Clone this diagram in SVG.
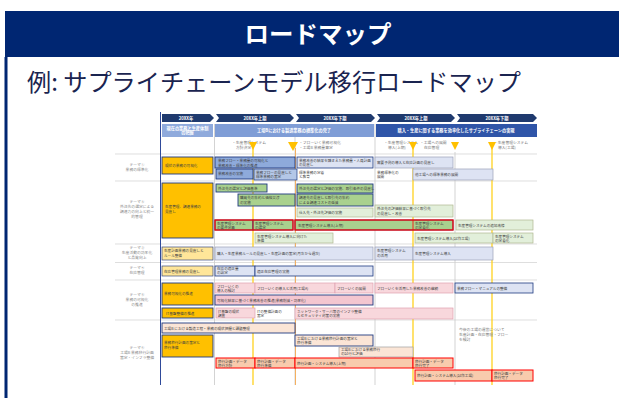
<svg xmlns="http://www.w3.org/2000/svg" width="619" height="398" viewBox="0 0 619 398">
<style>
text{font-family:"Noto Sans CJK JP","Noto Sans",sans-serif}
.t{font-size:3.6px;fill:#404040}
.tw{font-size:4.2px;fill:#ffffff;font-weight:bold}
.lbl{font-size:3.8px;fill:#8a8a8a;text-anchor:middle}
.ms{font-size:3.8px;fill:#7a7a7a}
.yb{fill:#ffc000;stroke:#1f3a80;stroke-width:0.9}
.ly{fill:#ffe699;stroke:#3a4a80;stroke-width:0.7}
.bb{fill:#8eaadb;stroke:#1f3a80;stroke-width:0.9}
.lb{fill:#b4c7e7;stroke:#1f3a80;stroke-width:0.7}
.gb{fill:#a9d18e;stroke:#1f3a80;stroke-width:0.9}
.lg{fill:#e2efda;stroke:#b0b890;stroke-width:0.7}
.lv{fill:#dde3f3;stroke:#9aa0b8;stroke-width:0.7}
.lvn{fill:#dde3f3;stroke:#1f3a80;stroke-width:0.8}
.pk{fill:#f8d7dc;stroke:#e0a0b0;stroke-width:0.7}
.pkn{fill:#f4c6d0;stroke:#1f3a80;stroke-width:0.9}
.be{fill:#fbe5d6;stroke:#1f3a80;stroke-width:0.9}
.beg{fill:#fbe5d6;stroke:#a0a0a0;stroke-width:0.7}
.red{fill:none;stroke:#ff0000;stroke-width:1.2}
.tan{fill:#f8cbad;stroke:#ff0000;stroke-width:1}
.sep{stroke:#d0d0d0;stroke-width:0.7}
.vg{stroke:#c8c8c8;stroke-width:0.8}
.vy{stroke:#ffd21f;stroke-width:1.3}
.tri{fill:#ffc000}
</style>
<rect width="619" height="398" fill="#ffffff"/>
<g id="frame">
<rect x="5" y="11" width="614" height="46" fill="#002672"/>
<rect x="4.5" y="57" width="3" height="341" fill="#002672"/>
<text x="318" y="43" font-size="24" font-weight="bold" fill="#ffffff" text-anchor="middle" textLength="147" lengthAdjust="spacingAndGlyphs">ロードマップ</text>
<text x="27" y="91" font-size="24" fill="#1a2450" textLength="494" lengthAdjust="spacingAndGlyphs">例: サプライチェーンモデル移行ロードマップ</text>
</g>
<g id="roadmap">
<g id="grid">
<line class="vg" x1="214.5" y1="124" x2="214.5" y2="385"/>
<line class="vg" x1="295" y1="124" x2="295" y2="385"/>
<line class="vg" x1="375" y1="124" x2="375" y2="385"/>
<line class="vg" x1="455" y1="152" x2="455" y2="385"/>
<line class="sep" x1="115" y1="154" x2="537" y2="154"/>
<line class="sep" x1="115" y1="181" x2="537" y2="181"/>
<line class="sep" x1="115" y1="244" x2="537" y2="244"/>
<line class="sep" x1="115" y1="262.5" x2="537" y2="262.5"/>
<line class="sep" x1="115" y1="280" x2="537" y2="280"/>
<line class="sep" x1="115" y1="320" x2="537" y2="320"/>
<line x1="160.5" y1="112" x2="160.5" y2="385" stroke="#2f4a9a" stroke-width="1"/>
</g>
<g id="header">
<polygon points="162,114 210,114 214,118 210,122 162,122" fill="#1f3a6e"/>
<polygon points="216,114 290,114 294,118 290,122 216,122 219,118" fill="#1f3a6e"/>
<polygon points="296,114 371,114 375,118 371,122 296,122 299,118" fill="#1f3a6e"/>
<polygon points="377,114 451,114 455,118 451,122 377,122 380,118" fill="#1f3a6e"/>
<polygon points="457,114 533,114 537,118 533,122 457,122 460,118" fill="#1f3a6e"/>
<text class="tw" x="186" y="119.8" text-anchor="middle">20XX年</text>
<text class="tw" x="255" y="119.8" text-anchor="middle">20XX年上期</text>
<text class="tw" x="335" y="119.8" text-anchor="middle">20XX年下期</text>
<text class="tw" x="416" y="119.8" text-anchor="middle">20XX年上期</text>
<text class="tw" x="497" y="119.8" text-anchor="middle">20XX年下期</text>
<rect x="162" y="124" width="51" height="13" fill="#8faadc"/>
<rect x="215" y="124" width="159" height="13" fill="#7f9dd6"/>
<rect x="376" y="124" width="161" height="13" fill="#2f55a8"/>
<text class="tw" x="187.5" y="129.5" text-anchor="middle" font-size="3.4" font-weight="normal">現在の業務と生産体制</text>
<text class="tw" x="187.5" y="134" text-anchor="middle" font-size="3.4" font-weight="normal">の把握</text>
<text class="tw" x="294" y="132" text-anchor="middle" font-size="3.6" font-weight="normal">工場Bにおける製造業務の標準化の完了</text>
<text class="tw" x="456" y="132" text-anchor="middle" font-size="3.6" font-weight="normal">購入・生産に関する業務を効率化したサプライチェーンの実現</text>
</g>
<g id="milestones">
<text class="ms" x="232" y="144">・生産管理システム</text>
<text class="ms" x="236" y="149">方針決定</text>
<text class="ms" x="299" y="144">・フローいく業務可視化</text>
<text class="ms" x="299" y="149">・工場B 業務量算定</text>
<text class="ms" x="384" y="144">・生産管理システム</text>
<text class="ms" x="388" y="149">導入(上期)</text>
<text class="ms" x="420" y="144">・工場への展開</text>
<text class="ms" x="424" y="149">在庫管理</text>
<text class="ms" x="494" y="144">・生産管理システム</text>
<text class="ms" x="498" y="149">導入(工場)</text>
</g>
<g id="connectors">
<line class="vy" x1="253" y1="148" x2="253" y2="385"/>
<line x1="295.5" y1="148" x2="295.5" y2="385" stroke="#f4b060" stroke-width="1"/>
<line class="vy" x1="413" y1="148" x2="413" y2="385"/>
<line class="vy" x1="492" y1="148" x2="492" y2="385"/>
<polygon class="tri" points="249,142 257,142 253,150"/>
<polygon class="tri" points="288,142 298,142 293,151"/>
<polygon class="tri" points="409,142 417,142 413,150"/>
<polygon class="tri" points="451,142 459,142 455,150"/>
<polygon class="tri" points="488,142 496,142 492,150"/>
</g>
<g id="labels">
<text class="lbl" x="137" y="166">テーマ①</text>
<text class="lbl" x="137" y="171">業務の標準化</text>
<text class="lbl" x="137" y="203">テーマ②</text>
<text class="lbl" x="137" y="208">外注先の選定による</text>
<text class="lbl" x="137" y="213">調達力の向上と統一</text>
<text class="lbl" x="137" y="218">的管理</text>
<text class="lbl" x="137" y="249">テーマ③</text>
<text class="lbl" x="137" y="254">生産活動の効率化</text>
<text class="lbl" x="137" y="259">と品質向上</text>
<text class="lbl" x="137" y="269">テーマ④</text>
<text class="lbl" x="137" y="274">在庫管理</text>
<text class="lbl" x="137" y="296">テーマ⑤</text>
<text class="lbl" x="137" y="301">業務の可視化</text>
<text class="lbl" x="137" y="306">の推進</text>
<text class="lbl" x="137" y="349">テーマ⑥</text>
<text class="lbl" x="137" y="354">工場B 業務移行計画</text>
<text class="lbl" x="137" y="359">策定・インフラ整備</text>
</g>
<g id="row1">
<rect class="yb" x="162" y="157" width="51" height="17"/>
<text class="t" x="165" y="167">現状の業務の可視化</text>
<rect class="bb" x="215" y="157" width="80" height="11"/>
<text class="t" x="218" y="162">業務フロー・業務量の可視化と</text>
<text class="t" x="218" y="166.5">業務改善・標準化の推進</text>
<rect class="bb" x="216" y="169" width="37" height="10"/>
<text class="t" x="218" y="175">業務改善の実施</text>
<rect class="lb" x="254" y="169" width="43" height="11"/>
<text class="t" x="256" y="173.5">業務フローの見直しと</text>
<text class="t" x="256" y="178">標準業務の策定</text>
<rect class="lvn" x="297" y="157" width="76" height="11"/>
<text class="t" x="299" y="161.5">業務改善の結果を踏まえた業務量・人員計画</text>
<text class="t" x="299" y="166">の見直し</text>
<text class="t" x="299" y="173.5">標準業務の定着</text>
<text class="t" x="299" y="178">と教育</text>
<rect class="lv" x="375" y="157" width="78" height="11"/>
<text class="t" x="377" y="164">需要予測の導入と在庫計画の見直し</text>
<text class="t" x="377" y="173.5">業務標準化の</text>
<text class="t" x="377" y="178">展開</text>
<rect class="lv" x="413" y="169" width="80" height="11"/>
<text class="t" x="415" y="176">他工場への標準業務の展開</text>
</g>
<g id="row2">
<rect class="yb" x="162" y="183" width="51" height="55"/>
<text class="t" x="165" y="208">生産管理、調達業務の</text>
<text class="t" x="165" y="212.5">見直し</text>
<rect class="gb" x="216" y="184" width="51" height="8"/>
<text class="t" x="218" y="189.5">外注先の選定と評価基準</text>
<rect class="gb" x="297" y="184" width="76" height="9"/>
<text class="t" x="299" y="190">外注先の選定と評価の実施、取引条件の見直し</text>
<rect class="gb" x="238" y="194" width="57" height="12"/>
<text class="t" x="240" y="199">購買先の集約と価格交渉</text>
<text class="t" x="240" y="203.5">の実施</text>
<rect class="gb" x="297" y="194" width="76" height="12"/>
<text class="t" x="299" y="199">調達先の見直しと取引先の集約</text>
<text class="t" x="299" y="203.5">による調達コストの低減</text>
<rect class="lg" x="297" y="208" width="76" height="9"/>
<text class="t" x="299" y="214">仕入先・外注先評価の実施</text>
<rect class="lg" x="375" y="205" width="78" height="12"/>
<text class="t" x="377" y="210">外注先の評価結果に基づく取引先</text>
<text class="t" x="377" y="214.5">の見直し・改善</text>
<rect class="gb" x="215" y="220" width="38" height="10" stroke="none"/>
<rect class="gb" x="253" y="220" width="40" height="10" stroke="none"/>
<rect class="red" x="215" y="220" width="78" height="10"/>
<line x1="253" y1="220" x2="253" y2="230" stroke="#ff0000" stroke-width="0.8"/>
<text class="t" x="217" y="224.5">生産管理システム</text>
<text class="t" x="217" y="228.5">の要件定義</text>
<text class="t" x="255" y="224.5">生産管理システム</text>
<text class="t" x="255" y="228.5">の選定</text>
<rect class="gb" x="295" y="220" width="158" height="10" stroke="none"/>
<rect class="red" x="295" y="220" width="158" height="10"/>
<line x1="413" y1="220" x2="413" y2="230" stroke="#ff0000" stroke-width="0.8"/>
<text class="t" x="298" y="226.5">生産管理システム導入(上期)</text>
<text class="t" x="415" y="224.5">生産管理システム</text>
<text class="t" x="415" y="228.5">の定着化</text>
<rect class="lg" x="456" y="220" width="77" height="10" stroke="#c9a98b"/>
<text class="t" x="458" y="226.5">生産管理システムの追加改修</text>
<rect class="lg" x="255" y="233" width="78" height="10" stroke="#c9a98b"/>
<text class="t" x="257" y="237.5">生産管理システム導入に向けた</text>
<text class="t" x="257" y="241.5">準備</text>
<rect class="lg" x="415" y="233" width="78" height="10" stroke="#c97a7a"/>
<text class="t" x="417" y="239.5">生産管理システム導入(試作工場)</text>
<rect class="lg" x="493" y="233" width="40" height="10" stroke="#e05050"/>
<text class="t" x="495" y="237.5">生産管理システム</text>
<text class="t" x="495" y="241.5">の定着化</text>
</g>
<g id="row3">
<rect class="ly" x="162" y="247" width="51" height="13"/>
<text class="t" x="164" y="252">生産計画業務の見直しと</text>
<text class="t" x="164" y="256.5">ルール整備</text>
<rect class="lv" x="215" y="247" width="158" height="13"/>
<text class="t" x="217" y="255">購入・生産業務ルールの見直し・生産計画の策定(月次から週次)</text>
<rect class="lv" x="375" y="247" width="38" height="13"/>
<text class="t" x="377" y="252">生産管理システム</text>
<text class="t" x="377" y="256.5">の活用</text>
<rect class="lv" x="413" y="247" width="80" height="13"/>
<text class="t" x="415" y="255">生産管理システム導入</text>
</g>
<g id="row4">
<rect class="ly" x="162" y="266" width="51" height="10"/>
<text class="t" x="164" y="272.5">在庫管理業務の見直し</text>
<rect class="lvn" x="215" y="266" width="40" height="10"/>
<text class="t" x="217" y="270">在庫の適正量</text>
<text class="t" x="217" y="274">の設定</text>
<rect class="lvn" x="255" y="266" width="118" height="10"/>
<text class="t" x="257" y="272.5">適正在庫管理の実施</text>
</g>
<g id="row5">
<rect class="yb" x="162" y="283" width="51" height="22"/>
<text class="t" x="164" y="295">業務可視化の推進</text>
<rect class="pk" x="215" y="283" width="40" height="10"/>
<text class="t" x="217" y="287.5">フローいくの</text>
<text class="t" x="217" y="291.5">導入の検討</text>
<rect class="pk" x="255" y="283" width="80" height="10"/>
<text class="t" x="257" y="289.5">フローいくの導入と活用(工場A)</text>
<rect class="pk" x="335" y="283" width="38" height="10"/>
<text class="t" x="337" y="289.5">フローいくの展開</text>
<rect class="pk" x="375" y="283" width="78" height="10"/>
<text class="t" x="377" y="289.5">フローいくを活用した業務改善の継続</text>
<rect class="lvn" x="455" y="283" width="78" height="10"/>
<text class="t" x="457" y="289.5">業務フロー・マニュアルの整備</text>
<rect class="pkn" x="215" y="295" width="158" height="10"/>
<text class="t" x="217" y="301.5">可視化結果に基づく業務改善の推進(業務削減・効率化)</text>
<rect class="yb" x="162" y="308" width="51" height="10"/>
<text class="t" x="166" y="314.5">IT基盤整備の推進</text>
<rect class="pk" x="216" y="308" width="39" height="10" stroke="#ff0000" stroke-width="1.1"/>
<text class="t" x="218" y="312.5">IT基盤の現状</text>
<text class="t" x="218" y="316.5">調査</text>
<text class="t" x="257" y="312.5">ITの整備計画の</text>
<text class="t" x="257" y="316.5">策定</text>
<rect class="pk" x="295" y="308" width="158" height="11" fill="#fce4e8"/>
<text class="t" x="297" y="312.5">ネットワーク・サーバ等のインフラ整備</text>
<text class="t" x="297" y="316.5">とセキュリティ対策の実施</text>
</g>
<g id="row6">
<rect class="be" x="162" y="323" width="133" height="10"/>
<text class="t" x="164" y="329.5">工場B における製造工程・業務の現状把握と課題整理</text>
<rect class="yb" x="162" y="335" width="51" height="22"/>
<text class="t" x="164" y="344">業務移行計画の策定と</text>
<text class="t" x="164" y="348.5">移行準備</text>
<rect class="be" x="295" y="335" width="78" height="11"/>
<text class="t" x="297" y="339.5">工場B における業務移行計画の策定と</text>
<text class="t" x="297" y="344">移行準備</text>
<rect class="beg" x="339" y="347" width="74" height="10"/>
<text class="t" x="341" y="351">工場B における業務移行</text>
<text class="t" x="341" y="355">の試行と評価</text>
<rect class="tan" x="216" y="358" width="39" height="10"/>
<text class="t" x="218" y="362.5">移行計画・データ</text>
<text class="t" x="218" y="366.5">移行方針</text>
<rect class="tan" x="255" y="358" width="40" height="10"/>
<text class="t" x="257" y="362.5">移行計画・データ</text>
<text class="t" x="257" y="366.5">移行準備</text>
<rect class="tan" x="295" y="358" width="118" height="10"/>
<text class="t" x="297" y="364.5">移行計画・システム導入(上期)</text>
<rect class="tan" x="413" y="358" width="40" height="10"/>
<text class="t" x="415" y="362.5">移行計画・データ</text>
<text class="t" x="415" y="366.5">移行完了</text>
<rect class="tan" x="415" y="370" width="77" height="11"/>
<text class="t" x="417" y="377">移行計画・システム導入(試作工場)</text>
<rect class="tan" x="492" y="370" width="41" height="11"/>
<text class="t" x="494" y="374.5">移行計画・データ</text>
<text class="t" x="494" y="378.5">移行完了</text>
<text class="ms" x="459" y="331">今後の工場の運営について</text>
<text class="ms" x="459" y="336">生産計画・在庫管理・フロー</text>
<text class="ms" x="459" y="341">を検討</text>
</g>
</g>
</svg>
